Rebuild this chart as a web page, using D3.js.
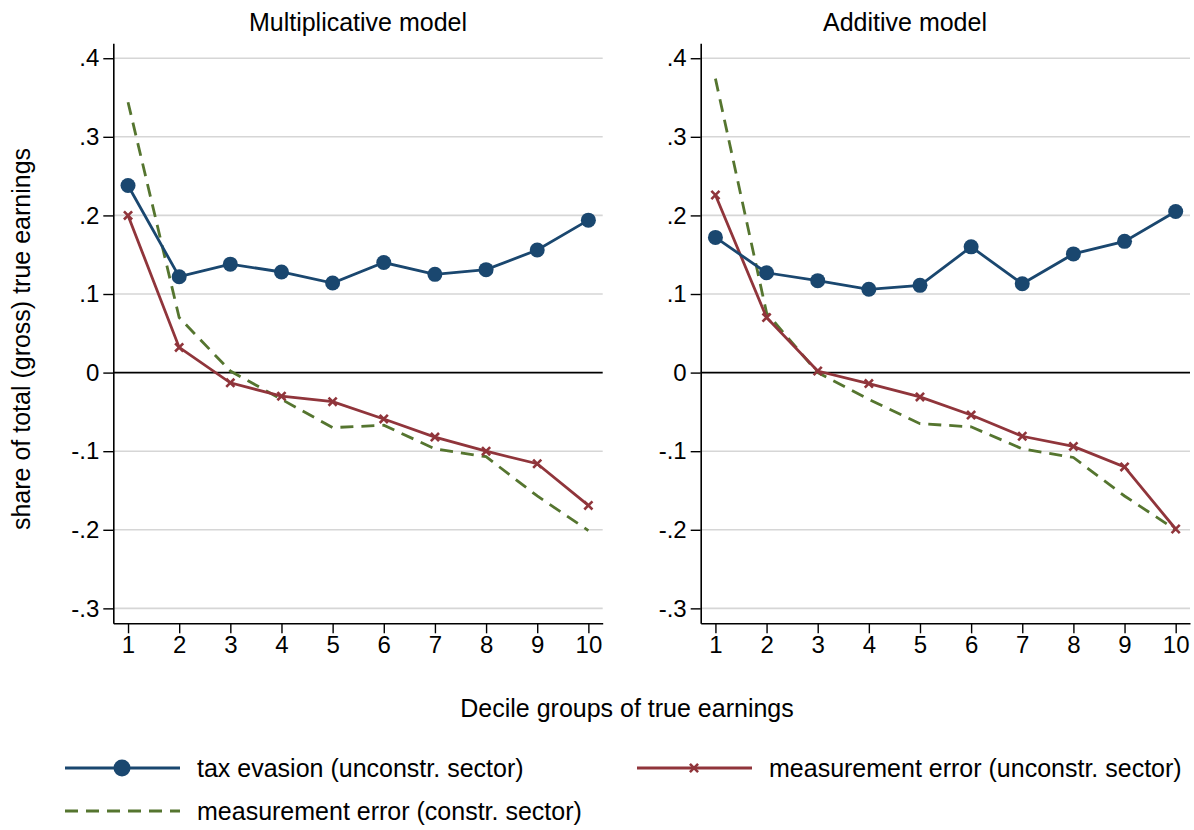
<!DOCTYPE html>
<html>
<head>
<meta charset="utf-8">
<script src="https://cdn.jsdelivr.net/npm/d3@7.9.0/dist/d3.min.js"></script>
<style>
  body { margin: 0; background: #fff; }
  svg text { font-family: "Liberation Sans", Arial, sans-serif; fill: #000; }
</style>
</head>
<body>
<svg id="chart" width="1194" height="830"></svg>
<script>
// deciles and values
const deciles = [1, 2, 3, 4, 5, 6, 7, 8, 9, 10];
const yTicks = [-0.3, -0.2, -0.1, 0, 0.1, 0.2, 0.3, 0.4];

const multTaxEvasion = [0.238, 0.122, 0.138, 0.128, 0.114, 0.140, 0.125, 0.131, 0.156, 0.194];
const multMeasUnconstr = [0.200, 0.032, -0.013, -0.030, -0.037, -0.059, -0.082, -0.100, -0.116, -0.169];
const multMeasConstr = [0.344, 0.070, 0.002, -0.034, -0.070, -0.067, -0.097, -0.107, -0.157, -0.201];

const addTaxEvasion = [0.172, 0.127, 0.117, 0.106, 0.111, 0.160, 0.113, 0.151, 0.167, 0.205];
const addMeasUnconstr = [0.226, 0.070, 0.002, -0.014, -0.031, -0.054, -0.081, -0.094, -0.120, -0.199];
const addMeasConstr = [0.374, 0.076, 0.000, -0.034, -0.065, -0.069, -0.097, -0.108, -0.157, -0.200];

const panelTitles = ["Multiplicative model", "Additive model"];
const seriesNames = [
    "tax evasion (unconstr. sector)",
    "measurement error (unconstr. sector)",
    "measurement error (constr. sector)"
];

const colors = { tax: "#1a476f", meas: "#90353b", constr: "#55752f" };
const fontSize = "25px";

const svg = d3.select("#chart");

const plotTop = 43.3, plotBottom = 623.3;
const panels = [
    { left: 113.3, right: 602.7, titleX: 358, title: panelTitles[0],
      tax: multTaxEvasion, meas: multMeasUnconstr, constr: multMeasConstr },
    { left: 700.7, right: 1190, titleX: 905, title: panelTitles[1],
      tax: addTaxEvasion, meas: addMeasUnconstr, constr: addMeasConstr }
];

const yScale = d3.scaleLinear().domain([-0.319, 0.419]).range([plotBottom, plotTop]);
const fmt = d => d === 0 ? "0" : d.toFixed(1).replace("0.", ".");

panels.forEach(p => {
    const xScale = d3.scaleLinear().domain([0.712, 10.28]).range([p.left, p.right]);
    const g = svg.append("g");

    // gridlines
    g.selectAll("line.grid")
        .data(yTicks.filter(t => t !== 0))
        .enter()
        .append("line")
        .attr("x1", p.left).attr("x2", p.right)
        .attr("y1", d => yScale(d)).attr("y2", d => yScale(d))
        .attr("stroke", "#d6d6d6")
        .attr("stroke-width", 1.6);

    // zero line
    g.append("line")
        .attr("x1", p.left).attr("x2", p.right)
        .attr("y1", yScale(0)).attr("y2", yScale(0))
        .attr("stroke", "#000")
        .attr("stroke-width", 1.8);

    // Y-axis
    const yAxis = g.append("g")
        .attr("transform", `translate(${p.left},0)`)
        .call(d3.axisLeft(yScale).tickValues(yTicks).tickFormat(fmt).tickSize(10).tickSizeOuter(0).tickPadding(4));

    // X-axis
    const xAxis = g.append("g")
        .attr("transform", `translate(0,${plotBottom})`)
        .call(d3.axisBottom(xScale).tickValues(deciles).tickFormat(d3.format("d")).tickSize(10).tickSizeOuter(0).tickPadding(3));

    [yAxis, xAxis].forEach(a => {
        a.select(".domain").attr("stroke", "#000").attr("stroke-width", 1.6);
        a.selectAll(".tick line").attr("stroke", "#000").attr("stroke-width", 1.4);
        a.selectAll("text").style("font-size", "24px").attr("fill", "#000")
            .style("font-family", "'Liberation Sans', Arial, sans-serif");
    });

    // title
    svg.append("text")
        .attr("x", p.titleX)
        .attr("y", 31)
        .attr("text-anchor", "middle")
        .style("font-size", fontSize)
        .text(p.title);

    const line = d3.line()
        .x((d, i) => xScale(deciles[i]))
        .y(d => yScale(d));

    // constrained sector, dashed
    g.append("path")
        .datum(p.constr)
        .attr("d", line)
        .attr("fill", "none")
        .attr("stroke", colors.constr)
        .attr("stroke-width", 2.8)
        .attr("stroke-dasharray", "13,8");

    // measurement error unconstr.
    g.append("path")
        .datum(p.meas)
        .attr("d", line)
        .attr("fill", "none")
        .attr("stroke", colors.meas)
        .attr("stroke-width", 2.8);

    g.selectAll("path.xmark")
        .data(p.meas)
        .enter()
        .append("path")
        .attr("class", "xmark")
        .attr("d", d3.symbol(d3.symbolX, 45))
        .attr("transform", (d, i) => `translate(${xScale(deciles[i])},${yScale(d)})`)
        .attr("fill", "none")
        .attr("stroke", colors.meas)
        .attr("stroke-width", 2.6);

    // tax evasion
    g.append("path")
        .datum(p.tax)
        .attr("d", line)
        .attr("fill", "none")
        .attr("stroke", colors.tax)
        .attr("stroke-width", 2.8);

    g.selectAll("circle")
        .data(p.tax)
        .enter()
        .append("circle")
        .attr("cx", (d, i) => xScale(deciles[i]))
        .attr("cy", d => yScale(d))
        .attr("r", 7.5)
        .attr("fill", colors.tax);
});

// Y-axis label
svg.append("text")
    .attr("transform", "rotate(-90)")
    .attr("x", -339)
    .attr("y", 30)
    .attr("text-anchor", "middle")
    .style("font-size", fontSize)
    .text("share of total (gross) true earnings");

// X-axis label
svg.append("text")
    .attr("x", 627)
    .attr("y", 717)
    .attr("text-anchor", "middle")
    .style("font-size", fontSize)
    .text("Decile groups of true earnings");

// Legend
const legendItems = [
    { name: seriesNames[0], color: colors.tax, x: 65, y: 768, mark: "circle", dash: null },
    { name: seriesNames[1], color: colors.meas, x: 637, y: 768, mark: "x", dash: null },
    { name: seriesNames[2], color: colors.constr, x: 65, y: 811, mark: null, dash: "13,8" }
];

const legend = svg.append("g");
legendItems.forEach(it => {
    legend.append("line")
        .attr("x1", it.x).attr("x2", it.x + 115)
        .attr("y1", it.y).attr("y2", it.y)
        .attr("stroke", it.color)
        .attr("stroke-width", 3.2)
        .attr("stroke-dasharray", it.dash);
    if (it.mark === "circle") {
        legend.append("circle")
            .attr("cx", it.x + 57).attr("cy", it.y).attr("r", 8.5)
            .attr("fill", it.color);
    } else if (it.mark === "x") {
        legend.append("path")
            .attr("d", d3.symbol(d3.symbolX, 45))
            .attr("transform", `translate(${it.x + 57},${it.y})`)
            .attr("stroke", it.color)
            .attr("stroke-width", 2.6);
    }
    legend.append("text")
        .attr("x", it.x + 132)
        .attr("y", it.y + 9)
        .style("font-size", fontSize)
        .text(it.name);
});
</script>
</body>
</html>
